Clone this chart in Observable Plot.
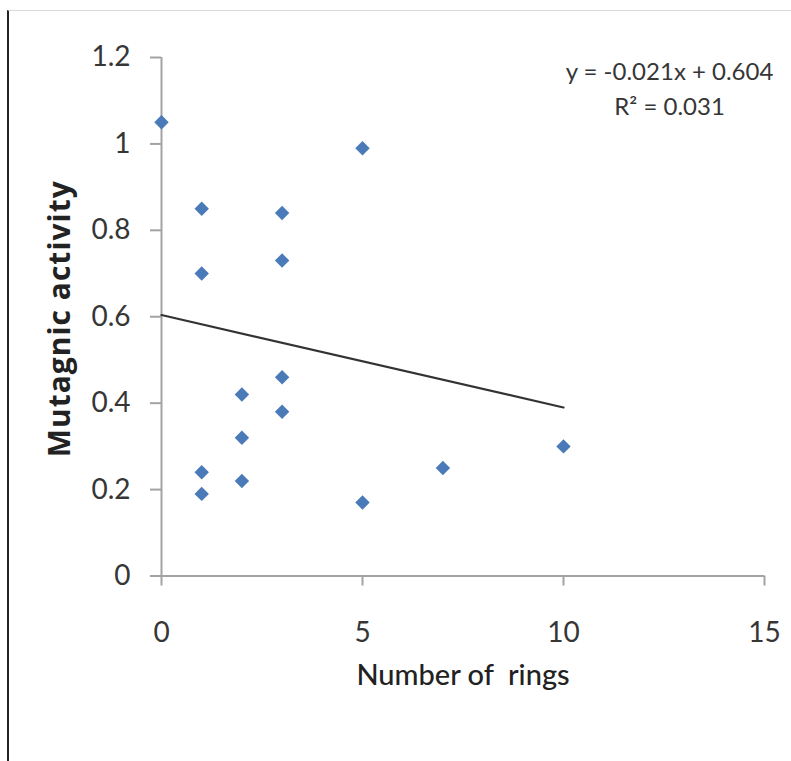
<!DOCTYPE html>
<html>
<head>
<meta charset="utf-8">
<script src="https://cdn.jsdelivr.net/npm/d3@7"></script>
<script src="https://cdn.jsdelivr.net/npm/@observablehq/plot@0.6"></script>
<style>
  html, body { margin: 0; padding: 0; background: #fff; }
  #wrap { position: relative; width: 791px; height: 761px; overflow: hidden; }
  #frame { position: absolute; left: 7px; top: 10px; width: 800px; height: 800px;
           border-left: 2px solid #222; border-top: 1px solid #d8d8d8; pointer-events: none; }
  svg { font-family: Lato, "Open Sans", sans-serif; }
  .ytitle text { letter-spacing: 1px; }
</style>
</head>
<body>
<div id="wrap"><div id="frame"></div><div id="chart"></div></div>
<script>
// Data
const rings = [0, 1, 1, 1, 1, 2, 2, 2, 3, 3, 3, 3, 5, 5, 7, 10];
const activity = [1.05, 0.85, 0.70, 0.24, 0.19, 0.42, 0.32, 0.22, 0.84, 0.73, 0.46, 0.38, 0.99, 0.17, 0.25, 0.30];
const xTicks = [0, 5, 10, 15];
const yTicks = [0, 0.2, 0.4, 0.6, 0.8, 1, 1.2];
const trendX = [0, 10];
const trendY = [0.604, 0.390];
const equationLines = ["y = -0.021x + 0.604", "R² = 0.031"];
const xTitle = "Number of  rings";
const yTitle = "Mutagnic activity";

const points = rings.map((x, i) => ({x, y: activity[i]}));
const trend = trendX.map((x, i) => ({x, y: trendY[i]}));

const axisColor = "#a3a3a3";
const textColor = "#363636";

const chart = Plot.plot({
  width: 791,
  height: 761,
  marginLeft: 161,
  marginRight: 27,
  marginTop: 57,
  marginBottom: 185.5,
  style: {background: "transparent", overflow: "visible"},
  x: {domain: [0, 15]},
  y: {domain: [0, 1.2]},
  marks: [
    Plot.ruleX([0], {stroke: axisColor, strokeWidth: 2, y1: 0, y2: 1.2}),
    Plot.ruleY([0], {stroke: axisColor, strokeWidth: 2}),
    Plot.axisY({ticks: yTicks, tickSize: 11, tickPadding: 20, stroke: axisColor, strokeWidth: 2,
      fill: textColor, fontSize: 28, label: null, tickFormat: d => String(d)}),
    Plot.axisX({ticks: xTicks, tickSize: 10, tickPadding: 36, stroke: axisColor, strokeWidth: 2,
      fill: textColor, fontSize: 28, label: null, tickFormat: d => String(d)}),
    Plot.line(trend, {x: "x", y: "y", stroke: "#333", strokeWidth: 2.2}),
    Plot.dot(points, {x: "x", y: "y", symbol: "diamond2", r: 6.5, fill: "#4a7ab8", stroke: "none"}),
    Plot.text([equationLines[0]], {frameAnchor: "top-right", dx: -95, dy: 15, textAnchor: "middle",
      lineAnchor: "middle", fontSize: 24, fill: textColor}),
    Plot.text([equationLines[1]], {frameAnchor: "top-right", dx: -95, dy: 50, textAnchor: "middle",
      lineAnchor: "middle", fontSize: 24, fill: textColor}),
    Plot.text([xTitle], {frameAnchor: "bottom", dy: 100, lineAnchor: "middle", fontSize: 29,
      fill: "#222", fontWeight: 500}),
    Plot.text([yTitle], {frameAnchor: "left", dx: -101, dy: 2, rotate: -90, lineAnchor: "middle",
      textAnchor: "middle", fontSize: 30, fontWeight: "bold", fill: "#222",
      fontFamily: "'Open Sans', sans-serif", className: "ytitle"})
  ]
});
document.getElementById("chart").appendChild(chart);
</script>
</body>
</html>
